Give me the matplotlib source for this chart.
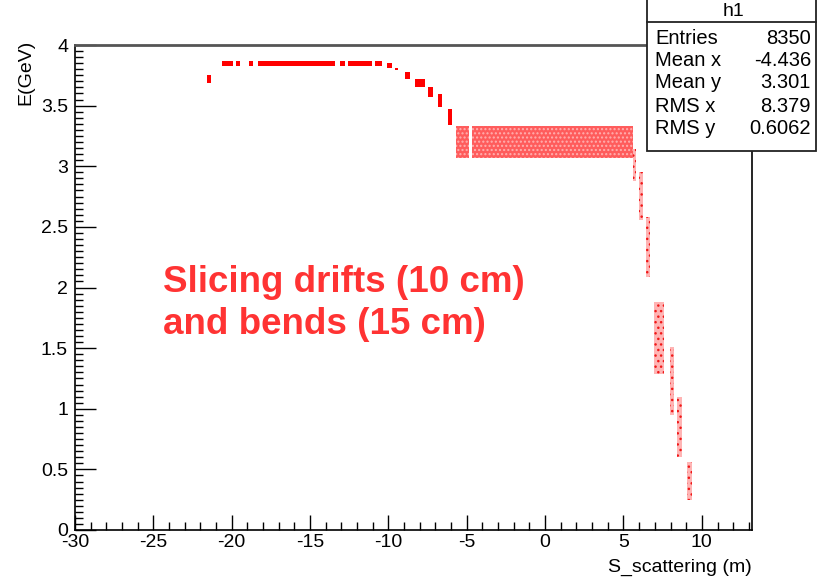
import matplotlib
matplotlib.use("Agg")
import matplotlib.pyplot as plt
from matplotlib.patches import Rectangle
from matplotlib.ticker import MultipleLocator

plt.rcParams['font.family'] = ['Liberation Sans', 'DejaVu Sans']
plt.rcParams['axes.unicode_minus'] = False
plt.rcParams['hatch.linewidth'] = 1.0

# Plateau before the first bend: (x_lo, x_hi) segments at ~3.85 GeV
plateau_x_lo = [-20.64, -19.75, -18.92, -18.34, -13.12, -12.55, -10.83]
plateau_x_hi = [-19.94, -19.49, -18.66, -13.38, -12.74, -11.02, -10.38]
plateau_y = (3.83, 3.87)

# Isolated early point and the falling steps after s = -10 m
step_x_lo = [-21.58, -10.06, -9.60, -8.95, -8.30, -7.45, -6.85, -6.20]
step_x_hi = [-21.30, -9.75, -9.40, -8.65, -7.65, -7.15, -6.60, -5.95]
step_y_lo = [3.69, 3.81, 3.79, 3.72, 3.65, 3.57, 3.49, 3.34]
step_y_hi = [3.75, 3.85, 3.81, 3.78, 3.72, 3.65, 3.60, 3.47]

# Dense band around 3.1-3.3 GeV
band_x_lo = [-5.67, -4.65, 5.00]
band_x_hi = [-4.85, 5.00, 5.60]
band_y_lo = [3.07, 3.07, 3.07]
band_y_hi = [3.33, 3.33, 3.33]

# Sparse columns in the final drop
col_x_lo = [5.58, 6.02, 6.45, 6.95, 7.96, 8.40, 9.05]
col_x_hi = [5.80, 6.24, 6.72, 7.58, 8.22, 8.72, 9.36]
col_y_lo = [2.88, 2.56, 2.09, 1.29, 0.95, 0.60, 0.25]
col_y_hi = [3.14, 2.95, 2.58, 1.88, 1.51, 1.10, 0.56]

# Statistics box
stat_names = ["Entries", "Mean x", "Mean y", "RMS x", "RMS y"]
stat_values = ["8350", "-4.436", "3.301", "8.379", "0.6062"]

W, H = 819, 577
fig = plt.figure(figsize=(W / 100, H / 100), dpi=100)
ax = fig.add_axes([75 / W, 47 / H, 677 / W, 485 / H])

red = '#ff0000'


def boxes(x_lo, x_hi, y_lo, y_hi, face, hatch=None, edge=red):
    widths = [b - a for a, b in zip(x_lo, x_hi)]
    heights = [b - a for a, b in zip(y_lo, y_hi)]
    ax.bar(x_lo, heights, width=widths, bottom=y_lo, align='edge',
           color=face, edgecolor=edge, linewidth=0, hatch=hatch, zorder=2)


boxes(plateau_x_lo, plateau_x_hi,
      [plateau_y[0]] * len(plateau_x_lo), [plateau_y[1]] * len(plateau_x_lo), red)
boxes(step_x_lo, step_x_hi, step_y_lo, step_y_hi, red)
boxes(band_x_lo, band_x_hi, band_y_lo, band_y_hi, '#ff5c5c', hatch='....',
      edge='#ffb0b0')
boxes(col_x_lo, col_x_hi, col_y_lo, col_y_hi, '#ffb4b4', hatch='...',
      edge='#f01818')

ax.set_xlim(-30, 13.2)
ax.set_ylim(0, 4.0)

ax.xaxis.set_major_locator(MultipleLocator(5))
ax.xaxis.set_minor_locator(MultipleLocator(1))
ax.yaxis.set_major_locator(MultipleLocator(0.5))
ax.yaxis.set_minor_locator(MultipleLocator(0.05))
ax.yaxis.set_major_formatter(plt.FuncFormatter(lambda v, p: f"{v:g}"))

ax.tick_params(axis='both', which='both', direction='in', top=False, right=False,
               width=1.0, colors='black', labelsize=14)
ax.tick_params(axis='x', which='major', length=11, pad=3)
ax.tick_params(axis='x', which='minor', length=6)
ax.tick_params(axis='y', which='major', length=15, pad=5)
ax.tick_params(axis='y', which='minor', length=6)

for s in ax.spines.values():
    s.set_linewidth(1.2)
    s.set_color('black')
ax.spines['top'].set_color('#555555')
ax.spines['top'].set_linewidth(2.0)

fig.text(752 / W, 1 - 572 / H, "S_scattering (m)", ha='right', va='baseline',
         fontsize=14)
fig.text(26 / W, 1 - 40 / H, "E(GeV)", rotation=90, ha='center', va='top',
         fontsize=14)

# Annotation
fig.text(163 / W, 1 - 292 / H, "Slicing drifts (10 cm)", color='#ff3333',
         fontsize=26.5, fontweight='bold', ha='left', va='baseline')
fig.text(163 / W, 1 - 334 / H, "and bends (15 cm)", color='#ff3333',
         fontsize=26.5, fontweight='bold', ha='left', va='baseline')


# Statistics box in figure pixel coordinates
def px(x, y):
    return x / W, 1 - y / H


bx0, bx1, by0, by1 = 647, 816, -5, 151
fig.patches.append(Rectangle(px(bx0, by1), (bx1 - bx0) / W, (by1 - by0) / H,
                             transform=fig.transFigure, facecolor='white',
                             edgecolor='#222222', linewidth=1.3, zorder=5))
fig.lines.append(plt.Line2D([bx0 / W, bx1 / W], [1 - 22 / H, 1 - 22 / H],
                            transform=fig.transFigure, color='#222222',
                            linewidth=1.3, zorder=6))
fig.text(*px(733, 11), "h1", ha='center', va='center', fontsize=14, zorder=7)
row_y = [38, 60, 82, 106, 128]
for name, val, yy in zip(stat_names, stat_values, row_y):
    fig.text(*px(655, yy), name, ha='left', va='center', fontsize=14.5, zorder=7)
    fig.text(*px(811, yy), val, ha='right', va='center', fontsize=14.5, zorder=7)

fig.savefig("out.png", dpi=100)
